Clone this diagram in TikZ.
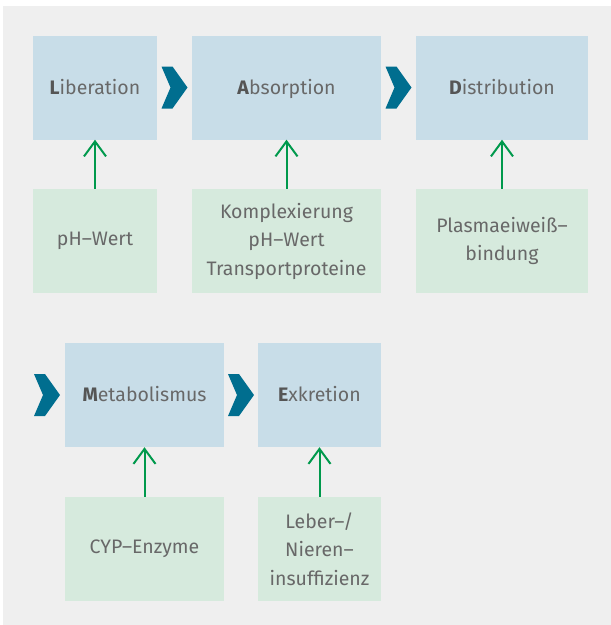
\documentclass[tikz,border=0pt]{standalone}
\usepackage{fontspec}
\setmainfont{Fira Sans}
\usepackage{tikz}
\usetikzlibrary{arrows.meta,calc}

\definecolor{bggray}{HTML}{EFEFEF}
\definecolor{phaseblue}{HTML}{C8DDE8}
\definecolor{factorgreen}{HTML}{D6EADD}
\definecolor{chevblue}{HTML}{006E8F}
\definecolor{arrowgreen}{HTML}{00994C}
\definecolor{textgray}{HTML}{686868}
\definecolor{boldgray}{HTML}{555555}

\newcommand{\first}[1]{\textcolor{boldgray}{\textbf{#1}}}

\begin{document}
\begin{tikzpicture}[x=1pt,y=-1pt]
	\tikzstyle{phase}=[fill=phaseblue,text=textgray,minimum height=104pt,inner sep=0pt,
		text height=14pt,text depth=1pt,font=\fontsize{19.5}{28.5}\selectfont]
	\tikzstyle{factor}=[fill=factorgreen,text=textgray,minimum height=104pt,inner sep=0pt,
		align=center,font=\fontsize{19.5}{28.5}\selectfont]
	\tikzstyle{influence}=[draw=arrowgreen,line width=2pt,
		-{Straight Barb[length=15pt,width=22pt,line width=2pt]}]
	\tikzset{chevron/.pic={
		\fill[chevblue] (-13,-21) -- (-2,-21) -- (13,0) -- (-2,21) -- (-13,21) -- (-4,0) -- cycle;}}

	\useasboundingbox (0,0) rectangle (611,625);
	\fill[bggray] (3,6) rectangle (611,625);

	% phases
	\node[phase,minimum width=124pt](lib) at (95,87.5){\first{L}iberation};
	\node[phase,minimum width=189pt](abs) at (286.5,87.5){\first{A}bsorption};
	\node[phase,minimum width=172pt](dis) at (502,87.5){\first{D}istribution};

	\node[phase,minimum width=159pt](met) at (144.5,395){\first{M}etabolismus};
	\node[phase,minimum width=123pt](exk) at (319.5,395){\first{E}xkretion};

	% influencing factors
	\node[factor,minimum width=124pt](ph) at (95,241){pH–Wert};
	\node[factor,minimum width=189pt](kom) at (286.5,241){Komplexierung\\pH–Wert\\Transportproteine};
	\node[factor,minimum width=172pt](pla) at (502,241){Plasmaeiweiß–\\bindung};

	\node[factor,minimum width=159pt](cyp) at (144.5,549){CYP–Enzyme};
	\node[factor,minimum width=123pt](leb) at (319.5,549){Leber–/\\Nieren–\\insuffizienz};

	\coordinate (start) at (47,395);

	\pic at ($(lib.east)!.5!(abs.west)$) {chevron};
	\pic at ($(abs.east)!.5!(dis.west)$) {chevron};
	\pic at (start) {chevron};
	\pic at ($(met.east)!.5!(exk.west)$) {chevron};

	\draw[influence] (ph) -- (lib);
	\draw[influence] (kom) -- (abs);
	\draw[influence] (pla) -- (dis);
	\draw[influence] (cyp) -- (met);
	\draw[influence] (leb) -- (exk);
\end{tikzpicture}
\end{document}
